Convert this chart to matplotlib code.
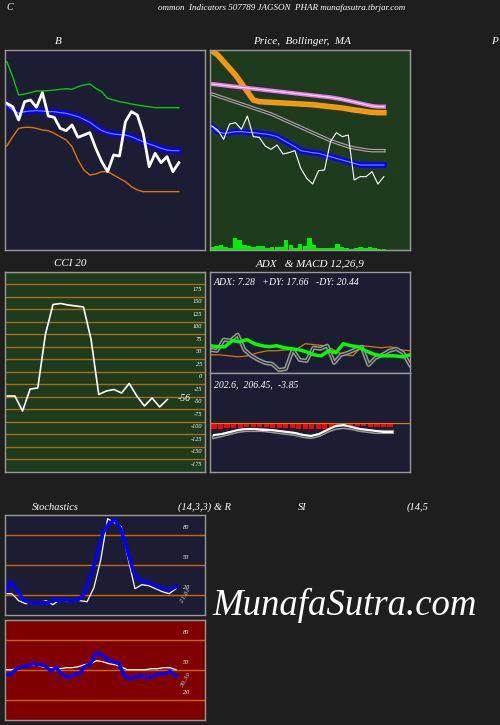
import matplotlib
matplotlib.use("Agg")
import matplotlib.pyplot as plt
import numpy as np

# ---- data (arbitrary price-like units) ----
b_close = [440,430,390,445,450,428,472,402,398,365,358,375,338,345,352,305,265,235,285,282,385,415,405,350,250,290,262,280,235,262]
b_mid   = [435,420,410,415,417,418,417,415,415,412,410,405,400,392,383,370,358,352,348,346,345,340,332,325,318,312,305,300,298,298]
b_up    = [565,520,465,468,472,477,477,478,480,482,484,482,490,495,498,485,475,455,450,445,442,438,435,432,430,427,427,427,427,427]
b_low   = [312,340,365,368,368,365,360,358,350,340,330,310,270,240,225,228,235,235,225,215,205,190,180,175,175,175,175,175,175,175]

p_close = [372,360,332,378,382,362,402,340,338,312,302,315,288,292,298,245,215,198,238,240,325,352,340,345,210,220,220,235,198,220]
p_mid   = [372,355,350,352,355,355,353,352,350,348,345,340,330,320,310,298,295,292,290,285,280,275,270,265,260,255,255,255,255,255]
p_ema   = [598,585,565,545,525,500,475,450,445,444,443,442,441,440,439,438,437,436,434,432,430,428,426,423,420,418,415,413,412,412]
p_pink  = [498,496,494,492,490,488,486,484,482,480,478,476,474,472,470,468,466,464,462,460,458,455,452,448,444,440,436,432,430,430]
p_gray  = [468,462,456,450,444,438,432,426,420,414,408,400,392,384,376,368,360,352,344,336,328,322,316,310,306,303,300,298,298,298]
p_vol   = [3,4,5,3,2,12,10,5,4,3,4,4,2,3,3,3,10,5,2,6,4,12,5,2,2,2,2,6,3,2,1,2,3,2,3,2,1,1]

cci_vals = [-38,-38,-68,-24,-22,85,145,147,144,142,140,75,-35,-28,-25,-32,-13,-38,-58,-42,-60,-45]
cci_levels = [175,150,125,100,75,50,25,0,-25,-50,-75,-100,-125,-150,-175]

adx_green = [27,26,26,32,31,33,29,27,26,27,25,24,23,21,18,17,22,20,29,27,26,22,19,17,17,17,16,18]
adx_white = [23,22,33,32,38,23,17,13,10,9,3,4,23,13,12,25,24,27,10,18,20,23,26,8,15,18,22,24,20,8]
adx_orange = [18,18,17,16,17,20,22,22,23,23,29,28,27,23,18,17,27,26,25,26,23,22]

macd_hist = [-6,-6,-5,-5,-5,-4,-4,-4,-4,-5,-5,-5,-5,-6,-6,-6,-6,-6,-5,-4,-4,-3,-3,-3,-4,-4,-4,-4]
macd_line = [37,38,40,42,43,43,42,42,41,40,39,37,36,38,42,46,47,45,43,42,41,40,40]
macd_sig  = [35,37,39,41,42,42,42,41,40,39,38,36,35,37,41,44,45,44,42,41,40,40,40]

st_k = [15,26,17,8,5,5,5,5,8,7,8,7,8,14,31,51,74,84,88,78,58,36,27,26,24,21,19,18,21]
st_d = [14,14,7,4,5,5,7,3,8,7,8,7,6,20,48,89,85,81,49,19,23,22,19,16,14,19]
rsi_b = [38,38,44,46,47,49,48,47,42,45,38,35,38,39,46,49,60,58,53,51,49,36,34,36,37,35,37,39,39,41,37]
rsi_w = [43,43,44,46,47,48,46,45,45,44,45,45,46,48,49,52,51,49,48,46,43,43,43,43,44,44,45,45,43]

BG = "#1e1e1e"
fig = plt.figure(figsize=(5, 7.25), dpi=100, facecolor=BG)
SER = ["Liberation Serif", "DejaVu Serif"]

def ax_px(x0, y0, x1, y1, fc):
    ax = fig.add_axes([x0/500, 1-y1/725, (x1-x0)/500, (y1-y0)/725], facecolor=fc)
    for s in ax.spines.values():
        s.set_color("#999999"); s.set_linewidth(1)
    ax.set_xticks([]); ax.set_yticks([])
    return ax

def txt(x, y, s, size=7, **kw):
    fig.text(x/500, 1-y/725, s, color="white", fontsize=size, fontstyle="italic",
             family=SER, ha="center", va="center", **kw)

txt(10, 8, "C")
txt(282, 8, "ommon  Indicators 507789 JAGSON  PHAR munafasutra.tbrjar.com", 6.5)
txt(58, 42, "B", 8)
txt(302, 42, "Price,  Bollinger,  MA", 8)
txt(494, 42, "P", 8)
txt(70, 264, "CCI 20", 8)
txt(310, 264, "ADX   & MACD 12,26,9", 8)
txt(55, 507, "Stochastics", 7.5)
txt(205, 507, "(14,3,3) & R", 7.5)
txt(302, 507, "SI", 7.5)
txt(418, 507, "(14,5", 7.5)
txt(345, 605, "MunafaSutra.com", 26.5)

# B panel
ax = ax_px(5, 50, 205, 250, "#1c1c33")
n = len(b_close); x = np.arange(n)
ax.plot(x, b_up, color="#00cc00", lw=1)
ax.plot(x, b_low, color="#dd7700", lw=1)
ax.plot(x, b_mid, color="#0000ff", lw=4)
ax.plot(x, b_mid, color="#8888ff", lw=0.8)
ax.plot(x, b_close, color="white", lw=2)
ax.set_xlim(-0.3, n*200/178-0.3); ax.set_ylim(0, 600)

# Price panel
ax = ax_px(210, 50, 410, 250, "#1e3b1e")
ax.plot(x, p_ema, color="#ff9900", lw=4)
ax.plot(x, p_ema, color="#999999", lw=0.6, alpha=0.6)
ax.plot(x, p_pink, color="#ee77ee", lw=3)
ax.plot(x, p_pink, color="white", lw=0.6)
ax.plot(x, p_gray, color="#aaaaaa", lw=2.5)
ax.plot(x, p_gray, color="#222222", lw=0.8)
ax.plot(x, p_mid, color="#0000ff", lw=4)
ax.plot(x, p_mid, color="#8888ff", lw=0.8)
ax.plot(x, p_close, color="white", lw=0.8)
ax.set_xlim(-0.3, n*200/178-0.3); ax.set_ylim(0, 600)
axv = ax.twinx()
axv.set_yticks([])
xv = np.linspace(0, n-1, len(p_vol))
axv.bar(xv, p_vol, width=(n-1)/len(p_vol), color="#00ee00")
axv.set_ylim(0, 200)
axv.set_xlim(-0.3, n*200/178-0.3)
for s in axv.spines.values():
    s.set_color("#999999")

# CCI
ax = ax_px(5, 272, 205, 472, "#1e3b1e")
for lv in cci_levels:
    ax.axhline(lv+10, color="#b06a10", lw=1)
    ax.text(0.985, lv, str(lv), transform=ax.get_yaxis_transform(), color="white",
            fontsize=4.5, fontstyle="italic", family=SER, ha="right", va="center")
ax.axhline(210, color="#b06a10", lw=1)
xc = np.arange(len(cci_vals))
ax.plot(xc, cci_vals, color="white", lw=1.2)
ax.set_xlim(-0.3, (len(cci_vals)-1)*200/160-0.3)
ax.set_ylim(-190, 210)
ax.text(len(cci_vals)+0.3, cci_vals[-1]+2, "-56", color="white", fontsize=7,
        fontstyle="italic", family=SER, va="center")

# ADX
ax = ax_px(210, 272, 410, 373, "#1c1c33")
ax.plot(np.linspace(0, 1, len(adx_orange)), adx_orange, color="#dd7700", lw=0.9)
ax.plot(np.linspace(0, 1, len(adx_white)), adx_white, color="#999999", lw=3)
ax.plot(np.linspace(0, 1, len(adx_white)), adx_white, color="#222222", lw=0.8)
ax.plot(np.linspace(0, 1, len(adx_green)), adx_green, color="#00ff00", lw=2.5)
ax.set_xlim(0, 1); ax.set_ylim(0, 100)
ax.text(0.02, 0.9, "ADX: 7.28   +DY: 17.66   -DY: 20.44", transform=ax.transAxes,
        color="white", fontsize=7, fontstyle="italic", family=SER, va="center")

# MACD
ax = ax_px(210, 373, 410, 472, "#1c1c33")
ax.axhline(49, color="#dd7700", lw=0.9)
xb = np.linspace(0.02, 0.9, len(macd_hist))
ax.bar(xb, macd_hist, bottom=49, width=0.9/len(macd_hist)*0.8, color="#ff0000")
xl = np.linspace(0.02, 0.91, len(macd_line))
ax.plot(xl, macd_sig, color="#999999", lw=3)
ax.plot(xl, macd_sig, color="#222222", lw=0.8)
ax.plot(xl, macd_line, color="white", lw=1.5)
ax.set_xlim(0, 1); ax.set_ylim(0, 99)
ax.text(0.02, 0.88, "202.6,  206.45,  -3.85", transform=ax.transAxes,
        color="white", fontsize=7, fontstyle="italic", family=SER, va="center")

# Stochastics / RSI
def osc(y0, y1, fc, b, w, label):
    ax = ax_px(5, y0, 205, y1, fc)
    for lv in (80, 50, 20):
        ax.axhline(lv-7.3, color="#cc6600", lw=1)
        ax.text(0.92, lv, str(lv), transform=ax.get_yaxis_transform(), color="white",
                fontsize=4.5, fontstyle="italic", family=SER, ha="right", va="center")
    ax.plot(np.linspace(0, 171, len(w)), w, color="white", lw=0.9)
    ax.plot(np.linspace(0, 171, len(b)), b, color="#0000ff", lw=2.5)
    ax.set_xlim(0, 200); ax.set_ylim(-7.3, 92.7)
    ax.text(181, (b[-1]+w[-1])/2-8, label, color="#cccccc", fontsize=5, rotation=60,
            fontstyle="italic", family=SER, ha="center", va="center")
    return ax

osc(515, 615, "#1c1c33", st_k, st_d, "21.81")
osc(620, 720, "#800000", rsi_b, rsi_w, "39.39")

fig.savefig("out.png", dpi=100, facecolor=BG)
